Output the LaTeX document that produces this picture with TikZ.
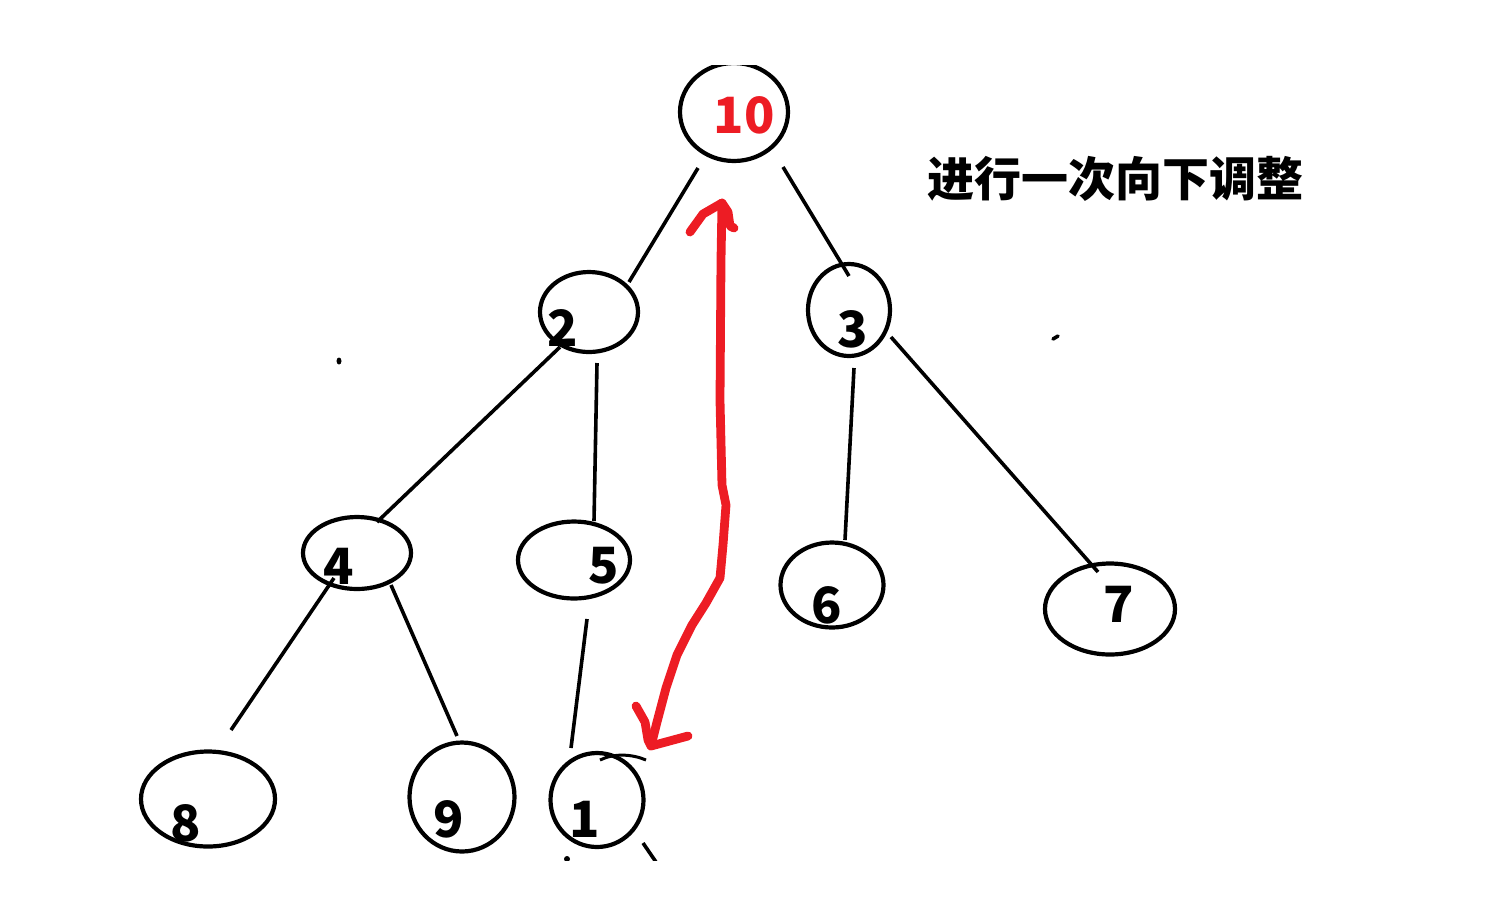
\documentclass[tikz,border=0pt]{standalone}
\usepackage{fontspec}
\newfontfamily\cjk{Noto Sans CJK SC}
\usetikzlibrary{shapes.geometric}
\definecolor{paintred}{HTML}{ED1C24}
\tikzset{
  heap/.style={draw=black, line width=2.1pt, ellipse, inner sep=0pt},
  num/.style={font=\cjk\bfseries\fontsize{25}{25}\selectfont, inner sep=0pt, anchor=center},
  edge/.style={draw=black, line width=1.8pt},
  redstroke/.style={draw=paintred, line width=4.4pt, line cap=round, line join=round}
}
\begin{document}
\begin{tikzpicture}[x=0.5pt,y=-0.5pt]
\useasboundingbox (0,0) rectangle (1500,918);
\begin{scope}
\clip (0,65) rectangle (1500,860);
% ellipses
\node[heap, minimum width=54pt, minimum height=49pt] (e10) at (734,112) {};
\node[heap, minimum width=49pt, minimum height=40pt] (e2) at (589,312) {};
\node[heap, minimum width=41pt, minimum height=46pt] (e3) at (849,310) {};
\node[heap, minimum width=54pt, minimum height=36pt] (e4) at (357,553) {};
\node[heap, minimum width=56pt, minimum height=38.5pt] (e5) at (574,560) {};
\node[heap, minimum width=51.5pt, minimum height=42.5pt] (e6) at (832,585) {};
\node[heap, minimum width=65pt, minimum height=45.5pt] (e7) at (1110,609) {};
\node[heap, minimum width=67pt, minimum height=47.5pt] (e8) at (208,799) {};
\node[heap, minimum width=52.5pt, minimum height=54.5pt] (e9) at (462,797) {};
\node[heap, minimum width=46.5pt, minimum height=47pt] (e1) at (597,800) {};
% labels
\node[num, text=paintred] (t10) at (744,115) {10};
\node[num] (t2) at (563,328) {2};
\node[num] (t3) at (853,329) {3};
\node[num] (t4) at (339,566) {4};
\node[num] (t5) at (604,566) {5};
\node[num] (t6) at (827,605) {6};
\node[num] (t7) at (1119,604) {7};
\node[num] (t8) at (186,823) {8};
\node[num] (t9) at (449,819) {9};
\node[num] (t1) at (585,819) {1};
% connector ends
\coordinate (a10l) at (698,168); \coordinate (a2t) at (629,282);
\coordinate (a10r) at (783,167); \coordinate (a3t) at (849,276);
\coordinate (a2l) at (560,347); \coordinate (a4t) at (377,522);
\coordinate (a2b) at (597,363); \coordinate (a5t) at (594,521);
\coordinate (a3b) at (854,368); \coordinate (a6t) at (845,540);
\coordinate (a3r) at (891,337); \coordinate (a7t) at (1098,572);
\coordinate (a4l) at (334,578); \coordinate (a8t) at (231,730);
\coordinate (a4r) at (391,585); \coordinate (a9t) at (457,736);
\coordinate (a5b) at (587,619); \coordinate (a1t) at (571,748);
\coordinate (a1r) at (643,843); \coordinate (a1x) at (656,862);
\draw[edge] (a10l) -- (a2t);
\draw[edge] (a10r) -- (a3t);
\draw[edge] (a2l) -- (a4t);
\draw[edge] (a2b) -- (a5t);
\draw[edge] (a3b) -- (a6t);
\draw[edge] (a3r) -- (a7t);
\draw[edge] (a4l) -- (a8t);
\draw[edge] (a4r) -- (a9t);
\draw[edge] (a5b) -- (a1t);
\draw[edge] (a1r) -- (a1x);
\fill (567,859) circle (3);
% overshoot stroke on node 1
\draw[line width=1.5pt] (600,760) .. controls (614,753) and (632,754) .. (646,760);
\end{scope}
% stray dots
\fill (339,361) ellipse (2.5 and 3.5);
\draw[line width=1.8pt, line cap=round] (1053,339) -- (1058,336);
% red double arrow
\coordinate (rtop) at (722,203);
\coordinate (rbot) at (651,746);
\draw[redstroke] (rtop) -- (721,260) -- (720,400) -- (722,485) -- (726,505) -- (723,545) -- (720,578) -- (706,603) -- (692,625) -- (677,655) -- (666,688) -- (657,722) -- (rbot);
\draw[redstroke] (690,232) -- (703,214) -- (rtop) -- (728,212) -- (730,226) -- (734,228);
\draw[redstroke] (636,706) -- (645,722) -- (648,740) -- (rbot) -- (688,736);
% title
\node[font=\cjk\bfseries\fontsize{23.5}{23.5}\selectfont, inner sep=0pt] (title) at (1115,179) {进行一次向下调整};
\end{tikzpicture}
\end{document}
